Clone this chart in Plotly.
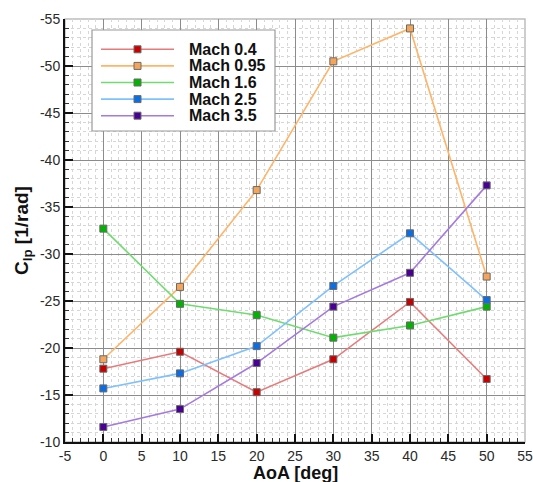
import plotly.graph_objects as go

# Angle of attack [deg]
aoa = [0, 10, 20, 30, 40, 50]

# Roll damping coefficient C_lp [1/rad] per Mach number
clp_m040 = [-17.8, -19.6, -15.3, -18.8, -24.9, -16.7]
clp_m095 = [-18.8, -26.5, -36.8, -50.5, -54.0, -27.6]
clp_m160 = [-32.7, -24.7, -23.5, -21.1, -22.4, -24.4]
clp_m250 = [-15.7, -17.3, -20.2, -26.6, -32.2, -25.1]
clp_m350 = [-11.6, -13.5, -18.4, -24.4, -28.0, -37.3]

series_names = ["Mach 0.4", "Mach 0.95", "Mach 1.6", "Mach 2.5", "Mach 3.5"]

x_title = "AoA [deg]"
y_title = "C<sub>lp</sub> [1/rad]"

x_tick_vals = [-5, 0, 5, 10, 15, 20, 25, 30, 35, 40, 45, 50, 55]
x_tick_text = ["-5", "0", "5", "10", "15", "20", "25", "30", "35", "40", "45", "50", "55"]
y_tick_vals = [-55, -50, -45, -40, -35, -30, -25, -20, -15, -10]
y_tick_text = ["-55", "-50", "-45", "-40", "-35", "-30", "-25", "-20", "-15", "-10"]

# (line colour, marker fill) per series
styles = [
    ("#e77a7a", "#c80000"),
    ("#ffb468", "#f5a55a"),
    ("#6fdc6f", "#00b400"),
    ("#7fc0ff", "#0a6ee6"),
    ("#a57ae0", "#4a0096"),
]
marker_edge = "#6a6a6a"

W, H = 533, 482
ML, MR, MT, MB = 65, 8, 19, 40
PW, PH = W - ML - MR, H - MT - MB


def xp(px):
    """pixel column -> paper x"""
    return (px - ML) / PW


def yp(py):
    """pixel row -> paper y"""
    return 1 - (py - MT) / PH


fig = go.Figure()
all_series = [clp_m040, clp_m095, clp_m160, clp_m250, clp_m350]
for name, ys, (lc, mc) in zip(series_names, all_series, styles):
    fig.add_trace(go.Scatter(
        x=aoa, y=ys, name=name, mode="lines+markers",
        line=dict(color=lc, width=1.6),
        marker=dict(symbol="square", size=7, color=mc,
                    line=dict(color=marker_edge, width=1)),
        showlegend=False,
    ))

font_family = "Liberation Sans, Arial, sans-serif"
axis_font = dict(family=font_family, size=14, color="#2a2a2a")

common = dict(
    showline=True, linecolor="#111", linewidth=2, mirror=False,
    showgrid=True, gridcolor="#8c8c8c", gridwidth=1,
    ticks="inside", ticklen=8, tickwidth=2, tickcolor="#111",
    tickfont=axis_font, zeroline=False, automargin=False,
)
minor = dict(dtick=1, showgrid=True, gridcolor="#d6d6d6", griddash="dot",
             ticks="inside", ticklen=4, tickwidth=1, tickcolor="#333")

fig.update_xaxes(range=[-5, 55], tickvals=x_tick_vals, ticktext=x_tick_text,
                 minor=minor, **common)
fig.update_yaxes(range=[-10, -55], tickvals=y_tick_vals, ticktext=y_tick_text,
                 minor=minor, **common)

shapes = [
    # light frame along the top and right edges of the plotting area
    dict(type="rect", xref="paper", yref="paper", x0=0, y0=0, x1=1, y1=1,
         line=dict(color="#bdbdbd", width=1.5), layer="below"),
    # legend box
    dict(type="rect", xref="paper", yref="paper",
         x0=xp(92), x1=xp(275), y0=yp(131), y1=yp(30),
         fillcolor="white", line=dict(color="#9a9a9a", width=1.2), layer="above"),
]

# axis titles
annotations = [
    dict(xref="paper", yref="paper", x=0.5, y=yp(473),
         xanchor="center", yanchor="middle", showarrow=False,
         text=f"<b>{x_title}</b>",
         font=dict(family=font_family, size=18, color="#111")),
    dict(xref="paper", yref="paper", x=xp(23), y=yp(231),
         xanchor="center", yanchor="middle", showarrow=False, textangle=-90,
         text=f"<b>{y_title}</b>",
         font=dict(family=font_family, size=19, color="#111")),
]

# legend entries: line sample with a square marker, followed by the label
row0, row_step = 49.3, 16.6
for i, (name, (lc, mc)) in enumerate(zip(series_names, styles)):
    ry = yp(row0 + i * row_step)
    shapes.append(dict(type="line", xref="paper", yref="paper",
                       x0=xp(101), x1=xp(174), y0=ry, y1=ry,
                       line=dict(color=lc, width=1.6), layer="above"))
    shapes.append(dict(type="rect", xref="paper", yref="paper",
                       xsizemode="pixel", ysizemode="pixel",
                       xanchor=xp(137.5), yanchor=ry,
                       x0=-3.5, x1=3.5, y0=-3.5, y1=3.5,
                       fillcolor=mc, line=dict(color=marker_edge, width=1),
                       layer="above"))
    annotations.append(dict(xref="paper", yref="paper", x=xp(187), y=ry,
                            xanchor="left", yanchor="middle", showarrow=False,
                            text=f"<b>{name}</b>",
                            font=dict(family=font_family, size=16, color="#111")))

fig.update_layout(
    width=W, height=H,
    margin=dict(l=ML, r=MR, t=MT, b=MB, autoexpand=False),
    paper_bgcolor="white", plot_bgcolor="white",
    shapes=shapes, annotations=annotations,
    showlegend=False,
)

fig.write_html("out.html")
